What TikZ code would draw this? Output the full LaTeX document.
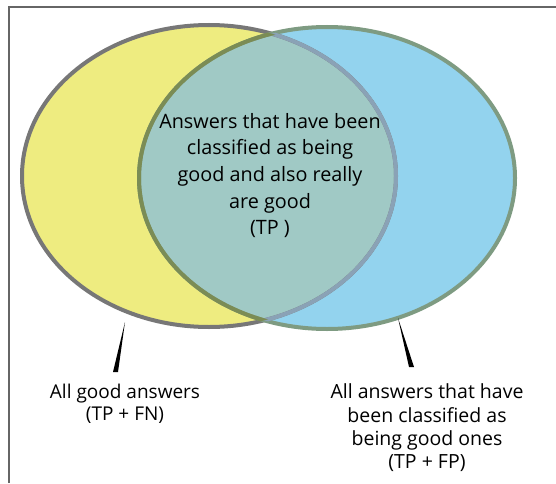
\documentclass[tikz,border=0pt]{standalone}
\usepackage{fontspec}
\setmainfont{Open Sans}
\definecolor{venyellow}{HTML}{EEEC80}
\definecolor{venblue}{HTML}{93D3EE}
\definecolor{venmix}{HTML}{A0C9C5}
\definecolor{lgray}{HTML}{777777}
\definecolor{rgreen}{HTML}{7E9B82}
\definecolor{lblue}{HTML}{8AA2B6}
\definecolor{rolive}{HTML}{7B8C55}
\definecolor{frame}{HTML}{666666}
\tikzset{
  outline/.style={line width=4pt},
  lbl/.style={align=center, inner sep=0pt, text=black},
  pointer/.style={fill=black, draw=none}
}
\begin{document}
\begin{tikzpicture}[x=1pt,y=1pt]
\useasboundingbox (0,0) rectangle (556,483);
\fill[white] (0,0) rectangle (556,483);
\draw[frame, line width=1.2pt] (9,0) -- (9,476) -- (556,476);
% ellipse geometry
\def\Lell{(209,307) ellipse [x radius=187, y radius=151]}
\def\Rell{(327,305) ellipse [x radius=188, y radius=151]}
\fill[venyellow] \Lell;
\fill[venblue] \Rell;
\begin{scope}
  \clip \Lell;
  \fill[venmix] \Rell;
\end{scope}
\draw[outline, lgray] \Lell;
\draw[outline, rgreen] \Rell;
\begin{scope}
  \clip \Rell;
  \draw[outline, lblue] \Lell;
\end{scope}
\begin{scope}
  \clip \Lell;
  \draw[outline, rolive] \Rell;
\end{scope}
% texts
\node[lbl, font=\fontsize{19.8}{26.7}\selectfont] (tp) at (270,307.5)
  {Answers that have been\\classified as being\\good and also really\\are good\\(TP )};
\node[lbl, font=\fontsize{19}{22.5}\selectfont] (good) at (125,79)
  {All good answers\\(TP + FN)};
\node[lbl, font=\fontsize{19.5}{23.3}\selectfont] (sel) at (427,55)
  {All answers that have\\been classified as\\being good ones\\(TP + FP)};
% pointers
\coordinate (ltop) at (125,161);
\coordinate (rtop) at (398,165);
\fill[pointer] (ltop) -- (113,111) -- (118,111) -- cycle;
\fill[pointer] (rtop) -- (409,116) -- (414,116) -- cycle;
\end{tikzpicture}
\end{document}
